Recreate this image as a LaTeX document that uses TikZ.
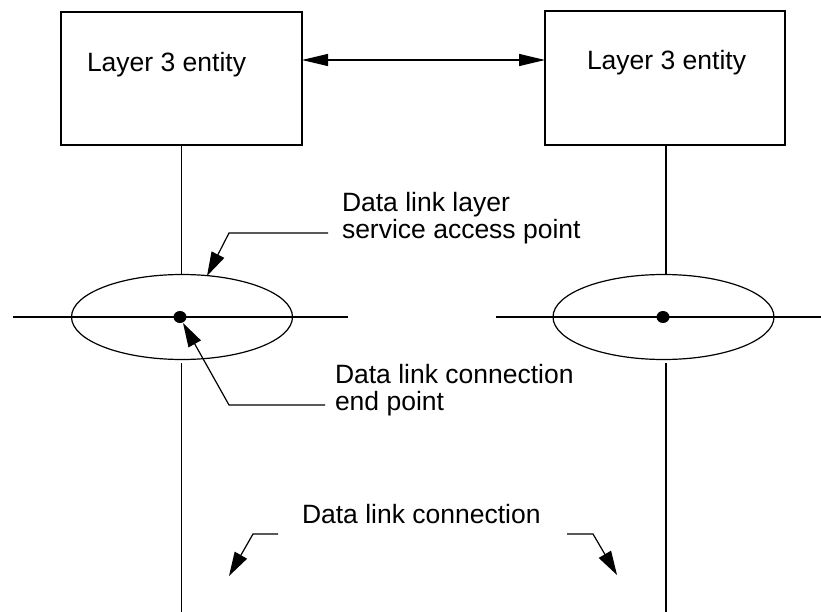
\documentclass[tikz,border=0pt]{standalone}
\usepackage{fontspec}
\setmainfont{Liberation Sans}
\usetikzlibrary{arrows.meta,shapes.geometric}
\tikzset{
  ln/.style={line width=1.2pt, draw=black},
  boxst/.style={draw=black, line width=1.3pt, rectangle, inner sep=0pt, outer sep=0pt},
  sapell/.style={draw=black, line width=1.2pt, ellipse, minimum width=221pt, minimum height=85pt, inner sep=0pt, outer sep=0pt},
  dotst/.style={fill=black, ellipse, minimum width=13pt, minimum height=12pt, inner sep=0pt, outer sep=0pt},
  lbl/.style={inner sep=0pt, outer sep=0pt, anchor=base west, align=left, font=\fontsize{26.5pt}{27pt}\selectfont},
  tip/.style={-{Triangle[length=24pt,width=14pt]}},
}
\begin{document}
\begin{tikzpicture}[x=1pt,y=-1pt]
\useasboundingbox (0,0) rectangle (821,612);
% boxes
\node[boxst, minimum width=241pt, minimum height=133pt] (lbox) at (181.5,78.5) {};
\node[boxst, minimum width=240pt, minimum height=134pt] (rbox) at (665,78) {};
\node[lbl] (ltxt) at (87,72) {Layer 3 entity};
\node[lbl] (rtxt) at (587,70) {Layer 3 entity};
\coordinate (ay) at (0,60);
\draw[ln, {Triangle[length=26pt,width=12pt]}-{Triangle[length=26pt,width=12pt]}] (lbox.east |- ay) -- (rbox.west |- ay);
% ellipses
\node[sapell] (lell) at (182,317) {};
\node[sapell] (rell) at (663.5,317) {};
\node[dotst] (ldot) at (180,317) {};
\node[dotst] (rdot) at (663,317) {};
% horizontal lines
\coordinate (lh1) at (13,317);
\coordinate (lh2) at (348,317);
\coordinate (rh1) at (496,317);
\coordinate (rh2) at (821,317);
\draw[ln] (lh1) -- (lh2);
\draw[ln] (rh1) -- (rh2);
% vertical lines
\coordinate (lbot) at (181.5,612);
\coordinate (rbot) at (666,612);
\draw[ln] (lbox.south) -- (lbox.south |- lell.north);
\draw[ln] (lbox.south |- 0,363) -- (lbot);
\draw[ln] (rbot |- rbox.south) -- (rbot |- rell.north);
\draw[ln] (rbot |- 0,363) -- (rbot);
% SAP label (anchor at baseline of the last line)
\node[lbl] (sap) at (342,239) {Data link layer\\service access point};
\coordinate (sapk1) at (328,233);
\coordinate (sapk2) at (229,233);
\coordinate (saptip) at (207,276);
\draw[ln, tip] (sapk1) -- (sapk2) -- (saptip);
% end point label
\node[lbl] (cep) at (335,410) {Data link connection\\end point};
\coordinate (cepk1) at (325,405);
\coordinate (cepk2) at (229,405);
\coordinate (ceptip) at (183,323);
\draw[ln, tip] (cepk1) -- (cepk2) -- (ceptip);
% data link connection
\node[lbl] (dlc) at (302,523) {Data link connection};
\coordinate (dl1) at (278,534);
\coordinate (dl2) at (253,534);
\coordinate (dl3) at (229,576);
\coordinate (dr1) at (567,534);
\coordinate (dr2) at (593,534);
\coordinate (dr3) at (617,575);
\draw[ln, tip] (dl1) -- (dl2) -- (dl3);
\draw[ln, tip] (dr1) -- (dr2) -- (dr3);
\end{tikzpicture}
\end{document}
